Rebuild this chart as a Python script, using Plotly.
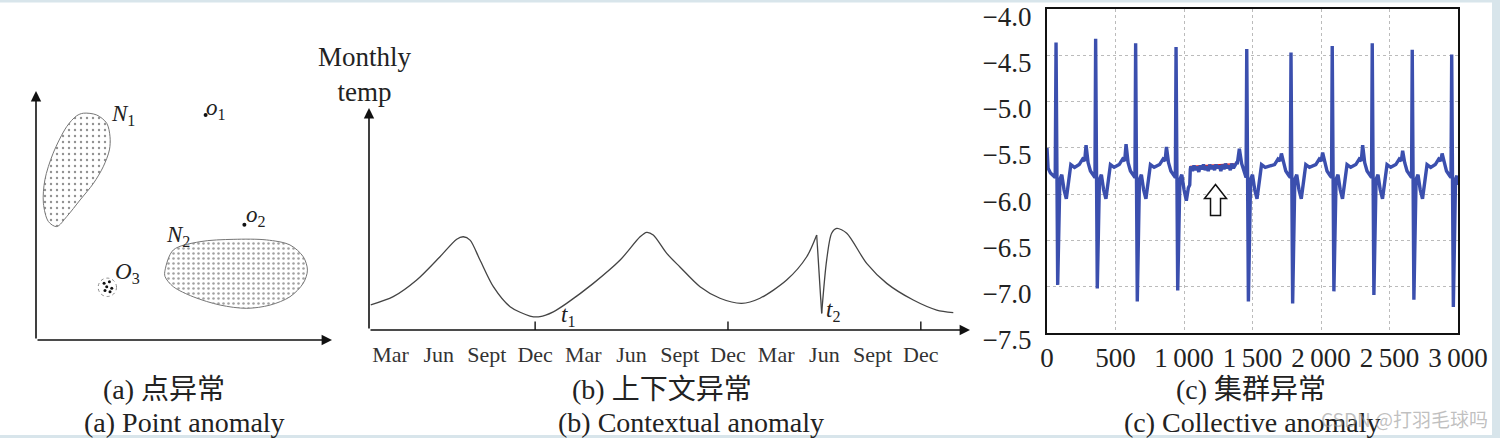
import plotly.graph_objects as go

W, H = 1500, 438
SERIF = "Liberation Serif, DejaVu Serif, Noto Sans CJK SC, serif"

# ---------------- Panel (a): point anomaly (schematic units) ----------------
n1_x = [1.60, 2.05, 2.39, 2.50, 2.48, 2.27, 1.94, 1.49, 1.04, 0.70, 0.42, 0.25, 0.30, 0.58, 1.04, 1.37, 1.60]
n1_y = [7.66, 7.60, 7.32, 6.87, 6.42, 5.85, 5.29, 4.73, 4.17, 3.83, 4.00, 4.62, 5.41, 6.31, 7.21, 7.57, 7.66]
n2_x = [4.36, 4.64, 5.54, 6.67, 7.79, 8.58, 9.03, 9.17, 9.03, 8.58, 7.91, 7.12, 6.22, 5.31, 4.64, 4.36, 4.36]
n2_y = [2.36, 3.04, 3.32, 3.40, 3.38, 3.21, 2.81, 2.36, 1.92, 1.46, 1.18, 1.07, 1.18, 1.46, 1.80, 2.14, 2.36]
o3_center = (2.41, 1.78)
o3_radius = 0.31
o3_dots_x = [2.30, 2.48, 2.39, 2.56, 2.33, 2.50]
o3_dots_y = [1.92, 1.97, 1.80, 1.75, 1.67, 1.63]
outlier_x = [5.73, 7.04]
outlier_y = [7.60, 3.89]
a_labels = ["<i>N</i><sub>1</sub>", "<i>o</i><sub>1</sub>", "<i>o</i><sub>2</sub>",
            "<i>N</i><sub>2</sub>", "<i>O</i><sub>3</sub>", "<i>y</i>", "<i>x</i>"]
a_label_x = [2.95, 6.08, 7.42, 4.80, 3.08, -0.74, 9.76]
a_label_y = [7.60, 7.80, 4.18, 3.50, 2.26, 8.31, -0.51]
a_xmax, a_ymax = 10.0, 8.41

# ---------------- Panel (b): contextual anomaly ----------------
month_ticks = [0, 3, 6, 9, 12, 15, 18, 21, 24, 27, 30, 33]
month_labels = ["Mar", "Jun", "Sept", "Dec"] * 3
dec_ticks = [9, 21, 33]
temp_month = [-1.23, 0.17, 1.63, 3.08, 4.12, 4.53, 4.95, 5.57, 6.40, 7.44, 8.68, 9.30, 10.13,
              10.96, 12.62, 14.29, 15.53, 15.94, 16.35, 17.19, 18.01, 19.26, 20.50, 21.85,
              22.99, 24.65, 25.90, 26.52, 26.83, 27.14, 27.45, 27.77, 28.39, 29.63, 30.88,
              32.53, 33.99, 35.02]
temp_value = [1.13, 1.50, 2.25, 3.30, 4.09, 4.20, 4.05, 3.15, 1.95, 1.05, 0.63, 0.60, 0.82,
              1.20, 2.10, 3.15, 4.20, 4.40, 4.28, 3.45, 2.84, 1.95, 1.43, 1.20,
              1.43, 2.25, 3.30, 4.28, 0.75, 3.15, 4.36, 4.58, 4.36, 3.00, 2.10,
              1.35, 0.90, 0.78]
spike_top_idx, spike_bottom_idx = 27, 28
b_xmin, b_xmax, b_ymax = -1.338, 36.06, 10.0
t_labels = ["<i>t</i><sub>1</sub>", "<i>t</i><sub>2</sub>"]
t_label_x = [11.05, 27.55]
t_label_y = [0.62, 0.85]

# ---------------- Panel (c): collective anomaly ----------------
ecg_x = [0, 8, 25, 45, 60,
         66, 78, 94, 108, 124, 141, 158, 174, 201, 235, 260, 275, 285, 300, 317, 340, 350,
         355, 367, 383, 397, 413, 430, 447, 463, 490, 527, 552, 567, 577, 592, 609, 632, 642,
         647, 659, 675, 689, 705, 722, 739, 755, 782, 822, 847, 862, 872, 887, 904, 927, 937,
         942, 954, 970, 984, 1000, 1017, 1032, 1042, 1046,
         1050, 1062, 1073, 1085, 1096, 1108, 1119, 1131, 1142, 1154, 1165, 1177, 1188, 1200, 1211,
         1223, 1234, 1246, 1257, 1269, 1280, 1292, 1303, 1315, 1326, 1338, 1349, 1361, 1372, 1384,
         1390, 1404, 1421, 1440, 1453,
         1458, 1470, 1486, 1500, 1516, 1533, 1550, 1566, 1593, 1661, 1686, 1701, 1711, 1726, 1743, 1766, 1776,
         1781, 1793, 1809, 1823, 1839, 1856, 1873, 1889, 1916, 1962, 1987, 2002, 2012, 2027, 2044, 2067, 2077,
         2082, 2094, 2110, 2124, 2140, 2157, 2174, 2190, 2217, 2254, 2279, 2294, 2304, 2319, 2336, 2359, 2369,
         2374, 2386, 2402, 2416, 2432, 2449, 2466, 2482, 2509, 2546, 2571, 2586, 2596, 2611, 2628, 2651, 2661,
         2666, 2678, 2694, 2708, 2724, 2741, 2758, 2774, 2801, 2834, 2859, 2874, 2884, 2899, 2916, 2939, 2949,
         2954, 2966, 2982, 2992, 3000]
ecg_y = [-5.50, -5.72, -5.77, -5.80, -5.82,
         -4.36, -6.98, -5.84, -5.79, -5.95, -6.05, -5.86, -5.68, -5.71, -5.68, -5.62, -5.64, -5.47, -5.66, -5.75, -5.80, -5.82,
         -4.32, -7.02, -5.84, -5.79, -5.95, -6.05, -5.86, -5.68, -5.71, -5.68, -5.62, -5.64, -5.46, -5.66, -5.75, -5.80, -5.82,
         -4.37, -7.16, -5.84, -5.79, -5.95, -6.05, -5.86, -5.68, -5.71, -5.68, -5.62, -5.64, -5.49, -5.66, -5.75, -5.80, -5.82,
         -4.41, -7.04, -5.84, -5.79, -5.95, -6.07, -5.93, -5.90, -5.73,
         -5.70, -5.75, -5.69, -5.74, -5.70, -5.76, -5.69, -5.73, -5.68, -5.74, -5.70, -5.75, -5.68, -5.73, -5.69,
         -5.74, -5.68, -5.72, -5.69, -5.75, -5.68, -5.73, -5.67, -5.72, -5.69, -5.74, -5.67, -5.72, -5.68, -5.66,
         -5.66, -5.51, -5.67, -5.75, -5.82,
         -4.43, -7.16, -5.84, -5.79, -5.95, -6.05, -5.86, -5.68, -5.71, -5.68, -5.62, -5.64, -5.56, -5.66, -5.75, -5.80, -5.82,
         -4.47, -7.18, -5.84, -5.79, -5.95, -6.05, -5.86, -5.68, -5.71, -5.68, -5.62, -5.64, -5.55, -5.66, -5.75, -5.80, -5.82,
         -4.40, -7.05, -5.84, -5.79, -5.95, -6.05, -5.86, -5.68, -5.71, -5.68, -5.62, -5.64, -5.47, -5.66, -5.75, -5.80, -5.82,
         -4.37, -7.09, -5.84, -5.79, -5.95, -6.05, -5.86, -5.68, -5.71, -5.68, -5.62, -5.64, -5.53, -5.66, -5.75, -5.80, -5.82,
         -4.44, -7.14, -5.84, -5.79, -5.95, -6.05, -5.86, -5.68, -5.71, -5.68, -5.62, -5.64, -5.56, -5.66, -5.75, -5.80, -5.82,
         -4.49, -7.22, -5.84, -5.80, -5.90]
anomaly_x = [1046, 1048, 1385, 1388]
anomaly_y = [-5.76, -5.70, -5.67, -5.64]
arrow_anchor = (1230, -6.23)
c_xticks = [0, 500, 1000, 1500, 2000, 2500, 3000]
c_xticklabels = ["0", "500", "1\u2009000", "1\u2009500", "2\u2009000", "2\u2009500", "3\u2009000"]
c_yticks = [-7.5, -7.0, -6.5, -6.0, -5.5, -5.0, -4.5, -4.0]
c_yticklabels = ["\u22127.5", "\u22127.0", "\u22126.5", "\u22126.0", "\u22125.5", "\u22125.0", "\u22124.5", "\u22124.0"]

# ---------------- Captions ----------------
caption_cn = ["(a) 点异常", "(b) 上下文异常", "(c) 集群异常"]
caption_en = ["(a) Point anomaly", "(b) Contextual anomaly", "(c) Collective anomaly"]
caption_cn_x = [164, 662, 1251]
caption_en_x = [184, 691, 1252]

fig = go.Figure()

# panel a traces
fig.add_trace(go.Scatter(x=n1_x, y=n1_y, mode="lines", fill="toself", line=dict(color="#777", width=1, shape="spline", smoothing=0.9),
                         fillcolor="white", fillpattern=dict(shape=".", fgcolor="#222", bgcolor="white", size=6, solidity=0.12),
                         xaxis="x", yaxis="y", hoverinfo="skip"))
fig.add_trace(go.Scatter(x=n2_x, y=n2_y, mode="lines", fill="toself", line=dict(color="#777", width=1, shape="spline", smoothing=0.9),
                         fillcolor="white", fillpattern=dict(shape=".", fgcolor="#444", bgcolor="white", size=5, solidity=0.2),
                         xaxis="x", yaxis="y", hoverinfo="skip"))
fig.add_trace(go.Scatter(x=o3_dots_x, y=o3_dots_y, mode="markers", marker=dict(color="#111", size=3),
                         xaxis="x", yaxis="y", hoverinfo="skip"))
fig.add_trace(go.Scatter(x=outlier_x, y=outlier_y, mode="markers", marker=dict(color="#111", size=4),
                         xaxis="x", yaxis="y", hoverinfo="skip"))

# panel b traces
curve_style = dict(color="#444", width=1.3)
segA = slice(0, spike_top_idx + 1)
segB = slice(spike_top_idx, spike_bottom_idx + 1)
segC = slice(spike_bottom_idx, len(temp_month))
fig.add_trace(go.Scatter(x=temp_month[segA], y=temp_value[segA], mode="lines",
                         line=dict(shape="spline", smoothing=0.8, **curve_style), xaxis="x2", yaxis="y2", hoverinfo="skip"))
fig.add_trace(go.Scatter(x=temp_month[segB], y=temp_value[segB], mode="lines",
                         line=dict(shape="linear", **curve_style), xaxis="x2", yaxis="y2", hoverinfo="skip"))
fig.add_trace(go.Scatter(x=temp_month[segC], y=temp_value[segC], mode="lines",
                         line=dict(shape="spline", smoothing=0.8, **curve_style), xaxis="x2", yaxis="y2", hoverinfo="skip"))
fig.add_trace(go.Scatter(x=dec_ticks, y=[0.16] * len(dec_ticks), mode="markers",
                         marker=dict(symbol="line-ns", size=7, line=dict(color="#222", width=1.5)),
                         xaxis="x2", yaxis="y2", hoverinfo="skip"))

# panel c traces
fig.add_trace(go.Scatter(x=anomaly_x, y=anomaly_y, mode="lines", line=dict(color="#e02020", width=1.5),
                         xaxis="x3", yaxis="y3", hoverinfo="skip"))
fig.add_trace(go.Scatter(x=ecg_x, y=ecg_y, mode="lines", line=dict(color="#3b4fae", width=3.4),
                         xaxis="x3", yaxis="y3", hoverinfo="skip"))

annotations = []
arrow_common = dict(showarrow=True, arrowhead=2, arrowsize=1.3, arrowwidth=1.6, arrowcolor="#111", text="")
annotations.append(dict(x=0, y=a_ymax, ax=0, ay=0, xref="x", yref="y", axref="x", ayref="y", **arrow_common))
annotations.append(dict(x=a_xmax, y=0, ax=0, ay=0, xref="x", yref="y", axref="x", ayref="y", **arrow_common))
for t, x, y in zip(a_labels, a_label_x, a_label_y):
    annotations.append(dict(x=x, y=y, xref="x", yref="y", text=t, showarrow=False,
                            font=dict(family=SERIF, size=23, color="#222")))
annotations.append(dict(x=b_xmin, y=b_ymax, ax=b_xmin, ay=0, xref="x2", yref="y2", axref="x2", ayref="y2", **arrow_common))
annotations.append(dict(x=b_xmax, y=0, ax=b_xmin, ay=0, xref="x2", yref="y2", axref="x2", ayref="y2", **arrow_common))
for t, x, y in zip(t_labels, t_label_x, t_label_y):
    annotations.append(dict(x=x, y=y, xref="x2", yref="y2", text=t, showarrow=False,
                            font=dict(family=SERIF, size=23, color="#222")))
annotations.append(dict(x=365 / W, y=(H - 74) / H, xref="paper", yref="paper", text="Monthly<br>temp",
                        showarrow=False, font=dict(family=SERIF, size=27, color="#222"), xanchor="center", yanchor="middle"))
for t, x in zip(caption_cn, caption_cn_x):
    annotations.append(dict(x=x / W, y=(H - 389) / H, xref="paper", yref="paper", text=t, showarrow=False,
                            font=dict(family=SERIF, size=28, color="#222"), xanchor="center", yanchor="middle"))
for t, x in zip(caption_en, caption_en_x):
    annotations.append(dict(x=x / W, y=(H - 422) / H, xref="paper", yref="paper", text=t, showarrow=False,
                            font=dict(family=SERIF, size=28, color="#222"), xanchor="center", yanchor="middle"))
annotations.append(dict(x=1404 / W, y=(H - 418) / H, xref="paper", yref="paper", text="CSDN @打羽毛球吗",
                        showarrow=False, font=dict(family="Noto Sans CJK SC", size=19, color="rgba(150,150,150,0.6)"),
                        xanchor="center", yanchor="middle"))

shapes = [
    dict(type="circle", xref="x", yref="y", x0=o3_center[0] - o3_radius, x1=o3_center[0] + o3_radius,
         y0=o3_center[1] - o3_radius, y1=o3_center[1] + o3_radius, line=dict(color="#888", width=1, dash="dot")),
    dict(type="path", xref="x3", yref="y3", xsizemode="pixel", ysizemode="pixel",
         xanchor=arrow_anchor[0], yanchor=arrow_anchor[1],
         path="M-5,0 L5,0 L5,17 L11,17 L0,31 L-11,17 L-5,17 Z",
         fillcolor="white", line=dict(color="#111", width=1.5)),
    dict(type="rect", xref="paper", yref="paper", x0=0, x1=1, y0=(H - 2.5) / H, y1=1, fillcolor="#d8e5eb", line=dict(width=0)),
    dict(type="rect", xref="paper", yref="paper", x0=1492 / W, x1=1, y0=0, y1=1, fillcolor="#d8e5eb", line=dict(width=0)),
    dict(type="rect", xref="paper", yref="paper", x0=0, x1=1, y0=0, y1=3 / H, fillcolor="#d8e5eb", line=dict(width=0)),
]

hidden = dict(visible=False, showgrid=False, zeroline=False, fixedrange=True)
fig.update_layout(
    width=W, height=H, autosize=False, margin=dict(l=0, r=0, t=0, b=0, pad=0),
    paper_bgcolor="white", plot_bgcolor="rgba(0,0,0,0)", showlegend=False,
    xaxis=dict(domain=[36 / W, 332 / W], range=[0, a_xmax], **hidden),
    yaxis=dict(domain=[(H - 340) / H, (H - 91) / H], range=[0, a_ymax], anchor="x", **hidden),
    xaxis2=dict(domain=[369 / W, 970 / W], range=[b_xmin, b_xmax], anchor="y2", showgrid=False, zeroline=False,
                showline=False, ticks="", tickmode="array", tickvals=month_ticks, ticktext=month_labels,
                tickfont=dict(family=SERIF, size=22, color="#333"), ticklabelstandoff=9, automargin=False),
    yaxis2=dict(domain=[(H - 330) / H, (H - 108) / H], range=[0, b_ymax], anchor="x2", **hidden),
    xaxis3=dict(domain=[1047 / W, 1458 / W], range=[0, 3000], anchor="y3", showgrid=True, gridcolor="#bbbbbb",
                griddash="dot", gridwidth=1, zeroline=False, showline=True, mirror=True, linecolor="#111", linewidth=2,
                ticks="", tickmode="array", tickvals=c_xticks, ticktext=c_xticklabels, automargin=False,
                tickfont=dict(family=SERIF, size=27, color="#222"), ticklabelstandoff=0),
    yaxis3=dict(domain=[(H - 333) / H, (H - 9) / H], range=[-7.5, -3.999], anchor="x3", showgrid=True, gridcolor="#bbbbbb",
                griddash="dot", gridwidth=1, zeroline=False, showline=True, mirror=True, linecolor="#111", linewidth=2,
                ticks="", tickmode="array", tickvals=c_yticks, ticktext=c_yticklabels, automargin=False,
                tickfont=dict(family=SERIF, size=27, color="#222"), ticklabelstandoff=8, ticklabelshift=7,
                ticklabeloverflow="allow"),
    annotations=annotations, shapes=shapes,
)

post = ("document.documentElement.style.margin='0';document.documentElement.style.padding='0';"
        "document.body.style.margin='0';document.body.style.padding='0';"
        "document.body.style.overflow='hidden';document.documentElement.style.overflow='hidden';")
fig.write_html("out.html", config={"responsive": False, "displayModeBar": False}, post_script=post)
